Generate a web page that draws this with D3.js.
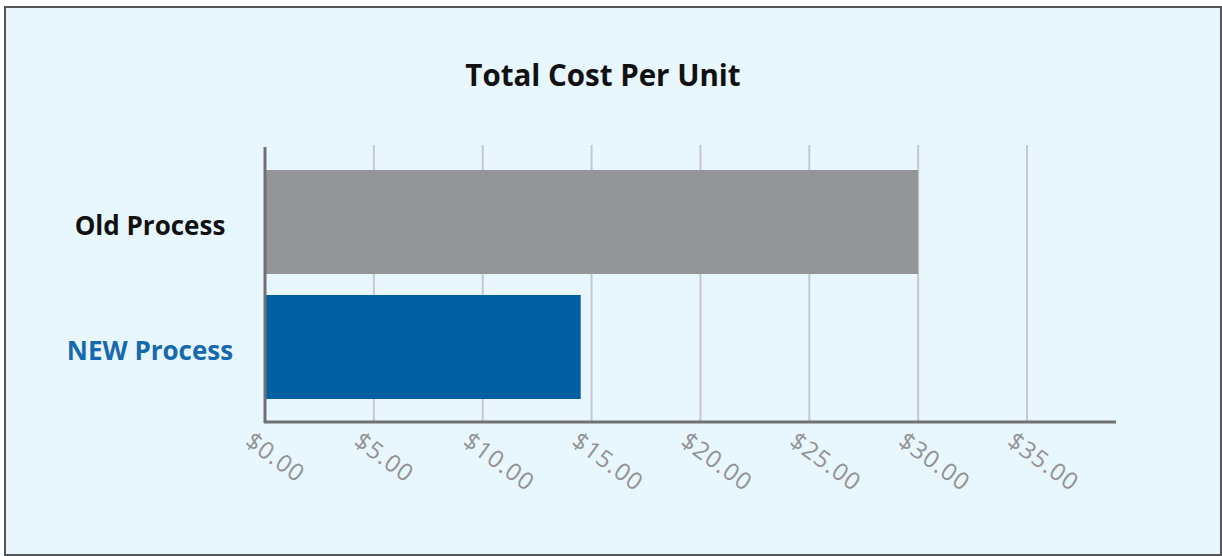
<!DOCTYPE html>
<html>
<head>
<meta charset="utf-8">
<script src="https://cdn.jsdelivr.net/npm/d3@7"></script>
<style>
  body { margin: 0; background: #fff; }
  svg { display: block; }
</style>
</head>
<body>
<div id="chart"></div>
<script>
// data
const categories = ["Old Process", "NEW Process"];
const costs = [30.0, 14.5];
const tickValues = [0, 5, 10, 15, 20, 25, 30, 35];

const width = 1222;
const height = 556;

const barColors = ["#939598", "#005fa3"];
const labelColors = ["#111111", "#1669ad"];

const svg = d3.select("#chart")
    .append("svg")
    .attr("width", width)
    .attr("height", height);

// frame
svg.append("rect")
    .attr("x", 5).attr("y", 7)
    .attr("width", width - 6).attr("height", height - 8)
    .attr("fill", "#e8f6fe")
    .attr("stroke", "#555")
    .attr("stroke-width", 2);

// title
svg.append("text")
    .attr("x", 603).attr("y", 86)
    .attr("text-anchor", "middle")
    .attr("font-family", "'Open Sans', sans-serif")
    .attr("font-weight", "bold")
    .attr("font-size", "29.5px")
    .attr("fill", "#111")
    .text("Total Cost Per Unit");

// scales
const x = d3.scaleLinear()
    .domain([0, 35])
    .range([265, 1027]);

const y = d3.scaleBand()
    .domain(categories)
    .range([147, 422])
    .paddingInner(0.168)
    .paddingOuter(0.184);

// grid lines
svg.append("g")
    .selectAll("line")
    .data(tickValues.slice(1))
    .join("line")
    .attr("x1", d => x(d)).attr("x2", d => x(d))
    .attr("y1", 145).attr("y2", 422)
    .attr("stroke", "#c6c8ca")
    .attr("stroke-width", 2);

// bars
svg.append("g")
    .selectAll("rect")
    .data(costs)
    .join("rect")
    .attr("x", x(0))
    .attr("y", (d, i) => y(categories[i]))
    .attr("width", d => x(d) - x(0))
    .attr("height", y.bandwidth())
    .attr("fill", (d, i) => barColors[i]);

// category labels
svg.append("g")
    .selectAll("text")
    .data(categories)
    .join("text")
    .attr("x", 150)
    .attr("y", d => y(d) + y.bandwidth() / 2 + 4)
    .attr("dy", "0.35em")
    .attr("text-anchor", "middle")
    .attr("font-family", "'Open Sans', sans-serif")
    .attr("font-weight", "bold")
    .attr("font-size", "26px")
    .attr("fill", (d, i) => labelColors[i])
    .text(d => d);

// axes lines
svg.append("line")
    .attr("x1", 265).attr("x2", 265)
    .attr("y1", 147).attr("y2", 423)
    .attr("stroke", "#707070")
    .attr("stroke-width", 3);

svg.append("line")
    .attr("x1", 264).attr("x2", 1116)
    .attr("y1", 422).attr("y2", 422)
    .attr("stroke", "#707070")
    .attr("stroke-width", 3);

// tick labels, rotated
svg.append("g")
    .selectAll("text")
    .data(tickValues)
    .join("text")
    .attr("transform", d => `translate(${x(d) - 10}, 429) rotate(36)`)
    .attr("dy", "0.8em")
    .attr("text-anchor", "start")
    .attr("font-family", "'Open Sans', sans-serif")
    .attr("font-size", "24px")
    .attr("letter-spacing", "1px")
    .attr("fill", "#939393")
    .text(d => "$" + d3.format(".2f")(d));
</script>
</body>
</html>
